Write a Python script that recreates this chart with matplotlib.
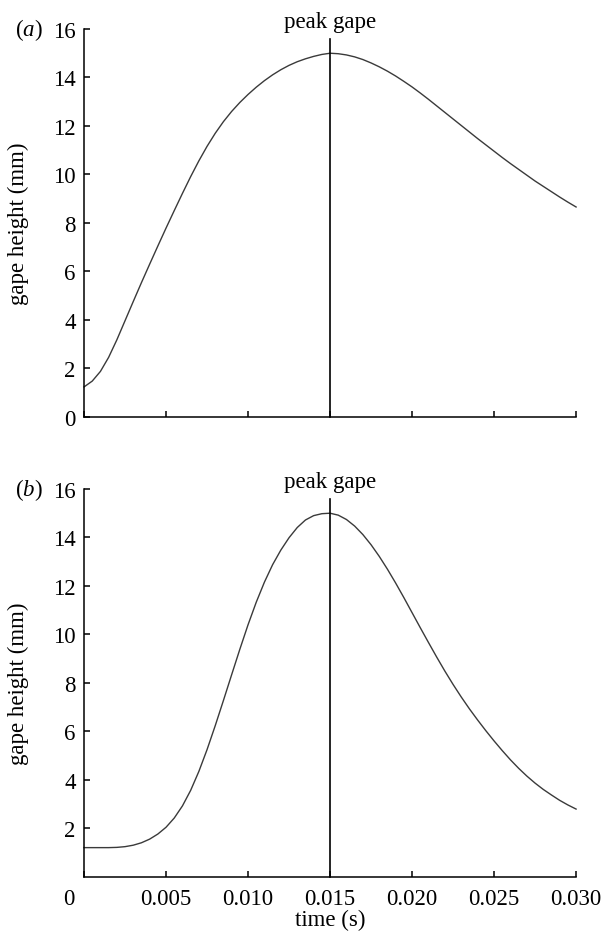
import numpy as np
import matplotlib.pyplot as plt
from matplotlib.transforms import ScaledTranslation

# sample times (s), shared by both panels
time_s = [0.0, 0.0005, 0.001, 0.0015, 0.002, 0.0025, 0.003, 0.0035, 0.004, 0.0045,
          0.005, 0.0055, 0.006, 0.0065, 0.007, 0.0075, 0.008, 0.0085, 0.009, 0.0095,
          0.010, 0.0105, 0.011, 0.0115, 0.012, 0.0125, 0.013, 0.0135, 0.014, 0.0145,
          0.015, 0.0155, 0.016, 0.0165, 0.017, 0.0175, 0.018, 0.0185, 0.019, 0.0195,
          0.020, 0.0205, 0.021, 0.0215, 0.022, 0.0225, 0.023, 0.0235, 0.024, 0.0245,
          0.025, 0.0255, 0.026, 0.0265, 0.027, 0.0275, 0.028, 0.0285, 0.029, 0.0295,
          0.030]

# panel (a): gape height (mm)
gape_a = [1.24, 1.48, 1.88, 2.46, 3.18, 3.97, 4.76, 5.54, 6.30, 7.05,
          7.79, 8.51, 9.22, 9.91, 10.56, 11.16, 11.70, 12.18, 12.60, 12.97,
          13.30, 13.60, 13.87, 14.11, 14.32, 14.50, 14.65, 14.77, 14.87, 14.95,
          15.00, 14.98, 14.93, 14.85, 14.74, 14.60, 14.44, 14.26, 14.06, 13.84,
          13.61, 13.36, 13.10, 12.83, 12.56, 12.29, 12.02, 11.75, 11.48, 11.22,
          10.96, 10.70, 10.45, 10.21, 9.97, 9.73, 9.51, 9.29, 9.07, 8.86,
          8.66]

# panel (b): gape height (mm)
gape_b = [1.21, 1.21, 1.21, 1.21, 1.22, 1.25, 1.31, 1.41, 1.56, 1.77,
          2.05, 2.43, 2.93, 3.57, 4.35, 5.25, 6.24, 7.28, 8.34, 9.39,
          10.40, 11.33, 12.16, 12.88, 13.48, 13.99, 14.41, 14.72, 14.90, 14.98,
          15.00, 14.92, 14.74, 14.47, 14.12, 13.70, 13.22, 12.69, 12.12, 11.52,
          10.90, 10.28, 9.67, 9.07, 8.49, 7.94, 7.42, 6.93, 6.47, 6.03,
          5.61, 5.21, 4.83, 4.48, 4.16, 3.87, 3.61, 3.38, 3.16, 2.97,
          2.80]

peak_time = 0.015
xticks = [0, 0.005, 0.010, 0.015, 0.020, 0.025, 0.030]
xticklabels = ['0', '0.005', '0.010', '0.015', '0.020', '0.025', '0.030']

plt.rcParams['font.family'] = ['Liberation Serif', 'DejaVu Serif']
plt.rcParams['mathtext.fontset'] = 'custom'
plt.rcParams['mathtext.rm'] = 'Liberation Serif'
plt.rcParams['mathtext.it'] = 'Liberation Serif:italic'

FS = 16.5

fig = plt.figure(figsize=(6.12, 9.37), dpi=100)
ax_a = fig.add_axes([0.1373, 0.5539, 0.804, 0.4141])
ax_b = fig.add_axes([0.1373, 0.0630, 0.804, 0.4141])


def style(ax, yticks):
    for s in ['top', 'right']:
        ax.spines[s].set_visible(False)
    for s in ['left', 'bottom']:
        ax.spines[s].set_linewidth(1.1)
    ax.set_xlim(0, 0.030)
    ax.set_ylim(0, 16)
    ax.set_xticks(xticks)
    ax.set_yticks(yticks)
    ax.tick_params(direction='in', length=4, width=1.1, labelsize=FS)
    ax.tick_params(axis='y', pad=6)
    ax.tick_params(axis='x', pad=8)
    ax.set_ylabel('gape height (mm)', fontsize=FS)
    ax.yaxis.set_label_coords(-0.112, 0.5)


for ax, g, lab, yt in [(ax_a, gape_a, 'a', [0, 2, 4, 6, 8, 10, 12, 14, 16]),
                       (ax_b, gape_b, 'b', [2, 4, 6, 8, 10, 12, 14, 16])]:
    ax.plot(time_s, g, color='#3a3a3a', lw=1.0, clip_on=False)
    ax.plot([peak_time, peak_time], [0, 15.6], color='black', lw=1.2, clip_on=False)
    ax.text(peak_time, 16.3, 'peak gape', ha='center', va='center', fontsize=FS)
    style(ax, yt)
    ax.text(-0.085, 1.0, r'($\it{' + lab + '}$)', transform=ax.transAxes,
            ha='right', va='center', fontsize=FS)

ax_a.set_xticklabels([])
ax_b.set_xticklabels(xticklabels)
first = ax_b.get_xticklabels()[0]
first.set_transform(first.get_transform() + ScaledTranslation(-0.155, 0, fig.dpi_scale_trans))
ax_b.set_xlabel('time (s)', fontsize=FS, labelpad=0)

fig.savefig('out.png', dpi=100)
